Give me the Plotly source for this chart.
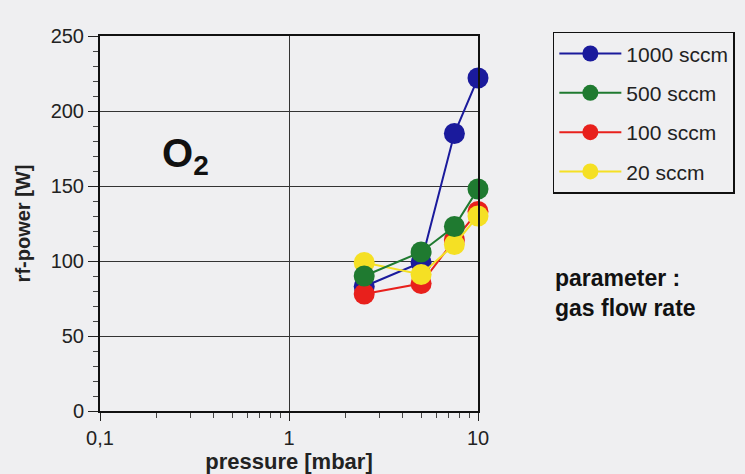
import plotly.graph_objects as go

pressure = [2.5, 5, 7.5, 10]
p_1000 = [83, 99, 185, 222]
p_500 = [90, 106, 123, 148]
p_100 = [78, 85, 114, 133]
p_20 = [99, 91, 111, 130]

series = [
    ("1000 sccm", p_1000, "#1a1a9c"),
    ("500 sccm", p_500, "#1f7a30"),
    ("100 sccm", p_100, "#e8201c"),
    ("20 sccm", p_20, "#f5e024"),
]

x_tickvals = [0.1, 1, 10]
x_ticktext = ["0,1", "1", "10"]
x_minor = [0.2, 0.3, 0.4, 0.5, 0.6, 0.7, 0.8, 0.9, 2, 3, 4, 5, 6, 7, 8, 9]

FONT = "Liberation Sans, Arial, Helvetica, sans-serif"
BG = "#efeff1"

fig = go.Figure()
order = [0, 2, 3, 1]
for i in order:
    name, vals, col = series[i]
    fig.add_trace(go.Scatter(
        x=pressure, y=vals, name=name, mode="lines+markers",
        line=dict(color=col, width=2),
        marker=dict(color=col, size=21),
        legendgroup=name, legendrank=i + 1,
        cliponaxis=False,
    ))

fig.update_layout(
    width=745, height=474,
    margin=dict(l=100, r=267, t=36, b=63, autoexpand=False),
    paper_bgcolor=BG, plot_bgcolor=BG,
    font=dict(family=FONT, size=19, color="#222"),
    showlegend=True,
    legend=dict(
        x=1.198, y=1.011, xanchor="left", yanchor="top",
        bgcolor=BG, bordercolor="#111", borderwidth=1.5,
        font=dict(size=21, color="#222"),
        tracegroupgap=9, itemwidth=62,
    ),
    xaxis=dict(
        type="log", range=[-1, 1], automargin=False,
        tickmode="array", tickvals=x_tickvals, ticktext=x_ticktext,
        ticks="outside", ticklen=8, tickwidth=1.2, tickcolor="#222",
        showgrid=True, gridcolor="#333", gridwidth=1,
        showline=True, linecolor="#111", linewidth=2, mirror=True,
        zeroline=False,
        minor=dict(tickmode="array", tickvals=x_minor, ticks="outside",
                   ticklen=5, tickwidth=1, tickcolor="#444", showgrid=False),
        title=dict(text="<b>pressure [mbar]</b>", font=dict(size=22)),
        tickfont=dict(size=20),
    ),
    yaxis=dict(
        range=[0, 250], tickmode="linear", tick0=0, dtick=50, automargin=False,
        ticks="outside", ticklen=10, tickwidth=1.2, tickcolor="#222",
        showgrid=True, gridcolor="#333", gridwidth=1.2,
        showline=True, linecolor="#111", linewidth=2, mirror=True,
        zeroline=False,
        minor=dict(dtick=10, ticks="outside", ticklen=5, tickwidth=1,
                   tickcolor="#444", showgrid=False),
        title=dict(text="<b>rf-power [W]</b>", font=dict(size=20)),
        tickfont=dict(size=20),
    ),
    annotations=[
        dict(text="<b>O<sub>2</sub></b>", x=0.225, y=0.68, xref="paper", yref="paper",
             xanchor="center", yanchor="middle",
             showarrow=False, font=dict(size=40, color="#111")),
        dict(text="<b>parameter :<br>gas flow rate</b>", x=1.198, y=0.315,
             xref="paper", yref="paper", xanchor="left", yanchor="middle",
             align="left", showarrow=False, font=dict(size=23, color="#111")),
    ],
)

fig.write_html("out.html")
